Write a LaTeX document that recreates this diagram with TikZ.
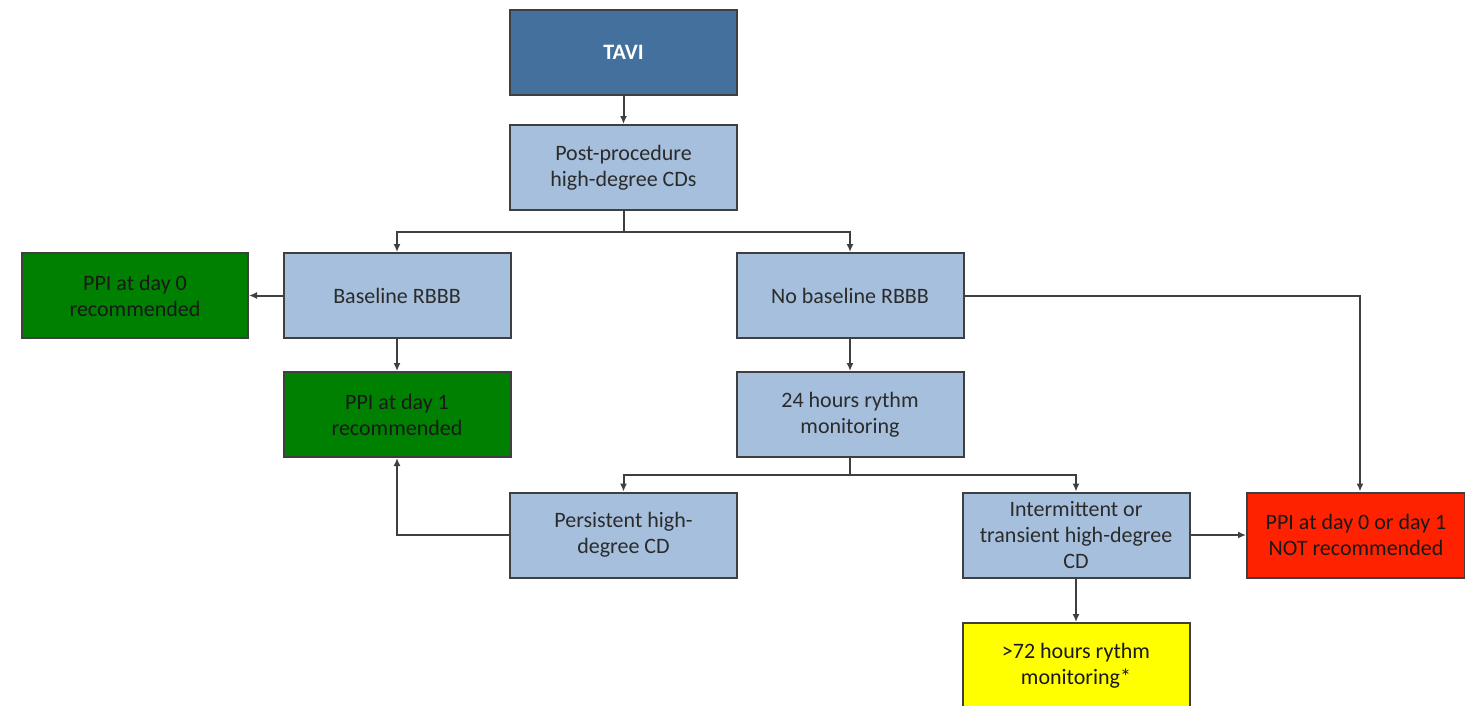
\documentclass[tikz,border=0pt]{standalone}
\usepackage{fontspec}
\setmainfont{Carlito}
\usetikzlibrary{arrows.meta}
\definecolor{darkbox}{HTML}{44709D}
\definecolor{lightbox}{HTML}{A5BFDD}
\definecolor{greenbox}{HTML}{008000}
\definecolor{redbox}{HTML}{FF2200}
\definecolor{yellowbox}{HTML}{FFFF00}
\definecolor{edgecol}{HTML}{3F3F3F}
\definecolor{txtcol}{HTML}{2B2B2B}
\tikzset{
  box/.style={draw=edgecol, line width=2pt, minimum width=227pt, minimum height=85pt,
    align=center, inner sep=2pt, font=\fontsize{22}{26}\selectfont, text=txtcol},
  lbox/.style={box, fill=lightbox},
  gbox/.style={box, fill=greenbox, text=black!90},
  conn/.style={draw=edgecol, line width=2pt, -{Latex[length=8pt,width=7pt]}},
  plain/.style={draw=edgecol, line width=2pt}
}
\begin{document}
\begin{tikzpicture}[x=1pt,y=-1pt]
\useasboundingbox (0,0) rectangle (1465,705);
\fill[white] (0,0) rectangle (1465,705);
\node[box, fill=darkbox, text=white, font=\fontsize{22}{26}\selectfont\bfseries] (tavi) at (623.5,52.5) {TAVI};
\node[lbox] (post) at (623.5,167.5) {Post-procedure\\high-degree CDs};
\node[lbox] (base) at (397,295.5) {Baseline RBBB};
\node[lbox] (nobase) at (850,295.5) {No baseline RBBB};
\node[gbox, minimum width=226pt] (d0) at (135,295.5) {PPI at day 0\\recommended};
\node[gbox] (d1) at (397,414.5) {PPI at day 1\\recommended};
\node[lbox] (h24) at (850,414.5) {24 hours rythm\\monitoring};
\node[lbox] (pers) at (623.5,535) {Persistent high-\\degree CD};
\node[lbox] (inter) at (1076,535) {Intermittent or\\transient high-degree\\CD};
\node[box, fill=redbox, text=black!90, minimum width=218pt] (red) at (1356,535) {PPI at day 0 or day 1\\NOT recommended};
\node[box, fill=yellowbox, text=black!90] (yel) at (1076,665.5) {>72 hours rythm\\monitoring*};

\coordinate (b1) at (623.5,232);
\coordinate (b2) at (850,475);
\coordinate (rc) at (1360,295.5);

\draw[conn] (tavi) -- (post);
\draw[plain] (post.south) -- (b1);
\draw[conn] (b1) -| (base.north);
\draw[conn] (b1) -| (nobase.north);
\draw[conn] (base.west) -- (d0.east);
\draw[conn] (base) -- (d1);
\draw[conn] (nobase) -- (h24);
\draw[conn] (nobase.east) -- (rc) -- (rc |- red.north);
\draw[plain] (h24.south) -- (b2);
\draw[conn] (b2) -| (pers.north);
\draw[conn] (b2) -| (inter.north);
\draw[conn] (pers.west) -| (d1.south);
\draw[conn] (inter.east) -- (inter.east -| red.west);
\draw[conn] (inter) -- (yel);
\end{tikzpicture}
\end{document}
